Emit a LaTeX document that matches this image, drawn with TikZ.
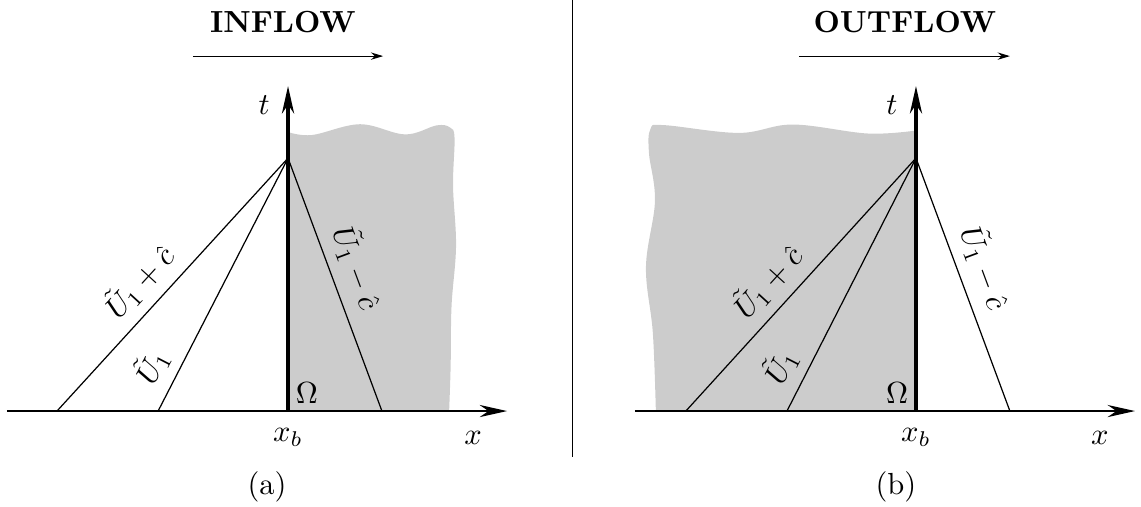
\documentclass[tikz,border=0pt]{standalone}
\usetikzlibrary{arrows.meta}
\begin{document}
\begin{tikzpicture}[x=0.3456cm,y=0.3456cm,
  axis/.style={thin,-{Stealth[length=9pt,width=4pt]}},
  taxis/.style={line width=1.1pt,-{Stealth[length=9pt,width=4pt]}},
  charline/.style={thin},
  flow/.style={thin,-{Stealth[length=4pt,width=2.4pt]}},
  region/.style={fill=black!20}]
\useasboundingbox (-9.6,-3.17) rectangle (28.43,13.7);
% (a) inflow: domain to the right of x_b
\coordinate (a-o) at (0,0);
\coordinate (a-apex) at (0,8.43);
\coordinate (a-xl) at (-9.37,0);
\coordinate (a-xr) at (7.3,0);
\coordinate (a-t) at (0,10.83);
\coordinate (a-p1) at (-7.7,0);
\coordinate (a-p2) at (-4.33,0);
\coordinate (a-p3) at (3.13,0);
\fill[region] (a-o) -- plot[smooth,tension=0.6] coordinates {(0,9.3) (0.8,9.2) (2.4,9.56) (3.9,9.22) (4.95,9.52) (5.4,9.45) (5.55,9.1) (5.5,7.5) (5.6,5.5) (5.45,3.5) (5.42,1.5) (5.37,0)} -- cycle;
\draw[charline] (a-apex) -- node[pos=0.56,sloped,above] (a-lab1) {$\tilde U_1+\hat c$} (a-p1);
\draw[charline] (a-apex) -- node[pos=0.87,sloped,above] (a-lab2) {$\tilde U_1$} (a-p2);
\draw[charline] (a-apex) -- node[pos=0.47,sloped,above] (a-lab3) {$\tilde U_1-\hat c$} (a-p3);
\draw[axis] (a-xl) -- (a-xr);
\draw[taxis] (a-o) -- (a-t);
\node (a-tlab) at (-0.8,10.2) {$t$};
\node (a-xb) at (0,-0.87) {$x_b$};
\node (a-xlab) at (6.17,-0.9) {$x$};
\node (a-om) at (0.63,0.6) {$\Omega$};
\node (a-title) at (-0.17,12.97) {\textbf{INFLOW}};
\coordinate (a-f1) at (-3.17,11.83);
\coordinate (a-f2) at (3.17,11.83);
\draw[flow] (a-f1) -- (a-f2);
\node (a-cap) at (-0.7,-2.53) {(a)};
% separator
\coordinate (sep-top) at (9.47,13.7);
\coordinate (sep-bot) at (9.47,-1.53);
\draw[thin] (sep-top) -- (sep-bot);
% (b) outflow: domain to the left of x_b
\begin{scope}[shift={(20.93,0)}]
\coordinate (b-o) at (0,0);
\coordinate (b-apex) at (0,8.43);
\coordinate (b-xl) at (-9.37,0);
\coordinate (b-xr) at (7.3,0);
\coordinate (b-t) at (0,10.83);
\coordinate (b-p1) at (-7.67,0);
\coordinate (b-p2) at (-4.3,0);
\coordinate (b-p3) at (3.13,0);
\fill[region] (b-o) -- plot[smooth,tension=0.6] coordinates {(0,9.35) (-1.6,9.25) (-4.1,9.55) (-5.9,9.27) (-8.4,9.53) (-8.85,9.4) (-8.9,8.6) (-8.7,7.0) (-9.0,4.8) (-8.77,2.6) (-8.67,0)} -- cycle;
\draw[charline] (b-apex) -- node[pos=0.56,sloped,above] (b-lab1) {$\tilde U_1+\hat c$} (b-p1);
\draw[charline] (b-apex) -- node[pos=0.87,sloped,above] (b-lab2) {$\tilde U_1$} (b-p2);
\draw[charline] (b-apex) -- node[pos=0.47,sloped,above] (b-lab3) {$\tilde U_1-\hat c$} (b-p3);
\draw[axis] (b-xl) -- (b-xr);
\draw[taxis] (b-o) -- (b-t);
\node (b-tlab) at (-0.8,10.2) {$t$};
\node (b-xb) at (0,-0.87) {$x_b$};
\node (b-xlab) at (6.13,-0.9) {$x$};
\node (b-om) at (-0.63,0.6) {$\Omega$};
\node (b-title) at (-0.37,12.97) {\textbf{OUTFLOW}};
\coordinate (b-f1) at (-3.9,11.83);
\coordinate (b-f2) at (3.13,11.83);
\draw[flow] (b-f1) -- (b-f2);
\node (b-cap) at (-0.67,-2.53) {(b)};
\end{scope}
\end{tikzpicture}
\end{document}
